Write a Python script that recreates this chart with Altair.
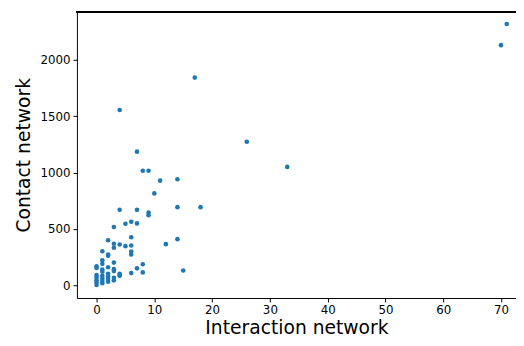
import altair as alt
import pandas as pd

interaction = [71, 70, 17, 4, 26, 7, 33, 8, 9, 11, 14, 10, 4, 7, 14, 18, 9, 9,
               3, 5, 6, 7, 6, 2, 3, 4, 3, 5, 6, 12, 14, 1, 2, 2, 6, 6,
               1, 1, 3, 8, 0, 0, 2, 3, 3, 1, 1, 7, 15, 8, 6, 4, 4,
               0, 0, 0, 0, 0, 1, 1, 1, 1, 2, 2, 2, 2, 3, 3, 4]
contact = [2318, 2130, 1842, 1555, 1273, 1185, 1050, 1016, 1016, 928, 940, 815, 670, 669, 693, 693, 645, 622,
           517, 546, 564, 549, 426, 400, 368, 362, 333, 347, 353, 365, 409, 302, 272, 263, 300, 273,
           222, 190, 201, 187, 168, 153, 160, 143, 126, 140, 120, 150, 131, 114, 108, 102, 84,
           90, 67, 44, 24, 3, 85, 61, 38, 18, 102, 79, 55, 32, 67, 44, 91]

df = pd.DataFrame({"Interaction network": interaction, "Contact network": contact})

points = alt.Chart(df).mark_circle(size=22, color="#1f77b4", opacity=1).encode(
    x=alt.X("Interaction network:Q",
            scale=alt.Scale(domain=[-3.4, 72.6], nice=False, zero=False),
            axis=alt.Axis(values=[0, 10, 20, 30, 40, 50, 60, 70], title="Interaction network")),
    y=alt.Y("Contact network:Q",
            scale=alt.Scale(domain=[-113, 2428], nice=False, zero=False),
            axis=alt.Axis(values=[0, 500, 1000, 1500, 2000], format="d", title="Contact network")),
)

top_spine = alt.Chart(df).mark_rule(color="black", strokeWidth=1).encode(
    x=alt.value(0), x2=alt.value(446), y=alt.value(0.5)
)

chart = alt.layer(points, top_spine).properties(
    width=446, height=291,
    autosize=alt.AutoSizeParams(type="none"),
    padding={"left": 70, "top": 1, "right": 0, "bottom": 37},
).configure_view(
    stroke=None
).configure_axis(
    grid=False,
    domainColor="black", domainWidth=1,
    tickColor="black", tickSize=4, tickWidth=1,
    labelColor="black", labelFont="DejaVu Sans", labelFontSize=12, labelPadding=3,
    titleFont="DejaVu Sans", titleFontSize=19, titleFontWeight="normal", titleColor="black",
).configure_axisX(
    titlePadding=3
).configure_axisY(
    titlePadding=7
)

chart.save("out.html", embed_options={"renderer": "svg", "actions": False})
